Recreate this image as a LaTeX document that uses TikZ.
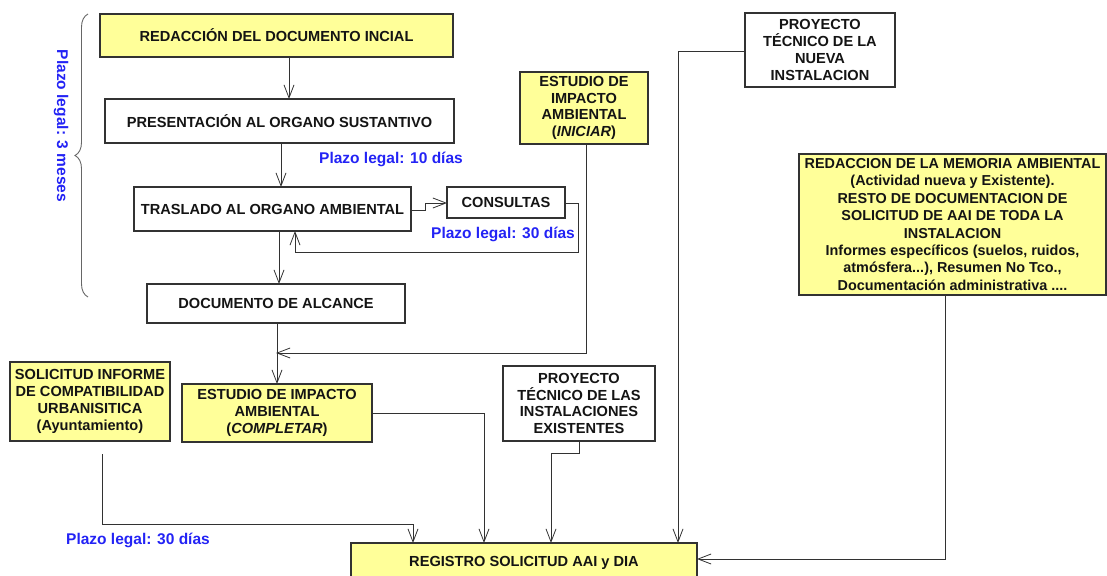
\documentclass[tikz,border=0pt]{standalone}
\usepackage{fontspec}
\setmainfont{Liberation Sans}
\usetikzlibrary{arrows.meta,shadows,decorations.pathreplacing,calc}
\definecolor{boxyellow}{RGB}{255,255,153}
\definecolor{plazoblue}{RGB}{35,35,245}
\definecolor{linegray}{RGB}{50,50,50}
\begin{document}
\begin{tikzpicture}[x=1pt,y=-1pt,
  every node/.style={inner sep=0pt,outer sep=0pt,font=\fontsize{14.6}{16.8}\selectfont\bfseries,text=black!92},
  boxbase/.style={draw=linegray,line width=1.1pt,anchor=north west,align=center},
  ybox/.style={boxbase,fill=boxyellow,drop shadow={shadow xshift=1.2pt,shadow yshift=-1.2pt,fill=black!85,opacity=1}},
  wbox/.style={boxbase,fill=white},
  tbox/.style={boxbase,fill=white,line width=2pt},
  tybox/.style={boxbase,fill=boxyellow,line width=2pt},
  conn/.style={draw=linegray,line width=0.9pt},
  arr/.style={conn,-{Straight Barb[length=13pt,width=10pt,line width=0.8pt]}},
  plazo/.style={text=plazoblue,font=\fontsize{15.5}{18}\selectfont\bfseries}
]
\useasboundingbox (0,0) rectangle (1107,575);

% nodes
\node[ybox,minimum width=353,minimum height=43] (n1) at (100,14) {REDACCIÓN DEL DOCUMENTO INCIAL};
\node[wbox,minimum width=349,minimum height=44] (n2) at (105,99) {PRESENTACIÓN AL ORGANO SUSTANTIVO};
\node[wbox,minimum width=277,minimum height=44] (n3) at (134,187) {TRASLADO AL ORGANO AMBIENTAL};
\node[wbox,minimum width=118,minimum height=31] (cons) at (447,187) {CONSULTAS};
\node[tbox,minimum width=258,minimum height=39] (n4) at (147,284) {DOCUMENTO DE ALCANCE};
\node[tybox,minimum width=128,minimum height=72] (eiai) at (520,72) {ESTUDIO DE\\IMPACTO\\AMBIENTAL\\(\textit{INICIAR})};
\node[tbox,minimum width=150,minimum height=74] (nuevo) at (745,13) {PROYECTO\\TÉCNICO DE LA\\NUEVA\\INSTALACION};
\node[ybox,minimum width=307,minimum height=141,font=\fontsize{14.4}{17.4}\selectfont\bfseries] (mem) at (799,154) {REDACCION DE LA MEMORIA AMBIENTAL\\(Actividad nueva y Existente).\\RESTO DE DOCUMENTACION DE\\SOLICITUD DE AAI DE TODA LA\\INSTALACION\\Informes específicos (suelos, ruidos,\\atmósfera...), Resumen No Tco.,\\Documentación administrativa ....};
\node[ybox,minimum width=160,minimum height=79] (sol) at (10,362) {SOLICITUD INFORME\\DE COMPATIBILIDAD\\URBANISITICA\\(Ayuntamiento)};
\node[ybox,minimum width=190,minimum height=58] (eiac) at (182,384) {ESTUDIO DE IMPACTO\\AMBIENTAL\\(\textit{COMPLETAR})};
\node[tbox,minimum width=152,minimum height=75] (exist) at (503,366) {PROYECTO\\TÉCNICO DE LAS\\INSTALACIONES\\EXISTENTES};
\node[tybox,minimum width=346,minimum height=40] (reg) at (351,543) {REGISTRO SOLICITUD AAI y DIA};

% labels
\node[plazo] (p10) at (391,159) {Plazo legal: 10 días};
\node[plazo] (p30a) at (503,234) {Plazo legal: 30 días};
\node[plazo] (p30b) at (138,540) {Plazo legal: 30 días};
\node[plazo,rotate=-90] (p3m) at (61,126) {Plazo legal: 3 meses};

% brace
\coordinate (bt) at (88,14);
\coordinate (bb) at (88,297);
\draw[draw=black!60,line width=0.9pt,decorate,decoration={brace,amplitude=13pt,aspect=0.5}] (bb) -- (bt);

% connectors
\draw[arr] (n1.south -| 289,0) -- (n2.north -| 289,0);
\draw[arr] (n2.south -| 281,0) -- (n3.north -| 281,0);
\draw[arr] (n3.south -| 279,0) -- (n4.north -| 279,0);
\draw[arr] (n3.east |- 0,210) -- (425,210) -- (425,203) -- (cons.west |- 0,203);
\draw[arr] (cons.east |- 0,203) -- (578,203) -- (578,252) -- (295,252) -- (n3.south -| 295,0);
\coordinate (join) at (276,353);
\draw[arr] (eiai.south -| 586,0) -- (586,353) -- (join);
\draw[arr] (n4.south -| 277,0) -- (eiac.north -| 277,0);
\draw[arr] (eiac.east |- 0,413) -- (484,413) -- (reg.north -| 484,0);
\coordinate (solstart) at (102,454);
\draw[arr] (solstart) -- (102,524) -- (413,524) -- (reg.north -| 413,0);
\draw[arr] (exist.south -| 579,0) -- (579,453) -- (551,453) -- (reg.north -| 551,0);
\draw[arr] (nuevo.west |- 0,51) -- (678,51) -- (reg.north -| 678,0);
\draw[arr] (mem.south -| 945,0) -- (945,559) -- (reg.east |- 0,559);
\end{tikzpicture}
\end{document}
